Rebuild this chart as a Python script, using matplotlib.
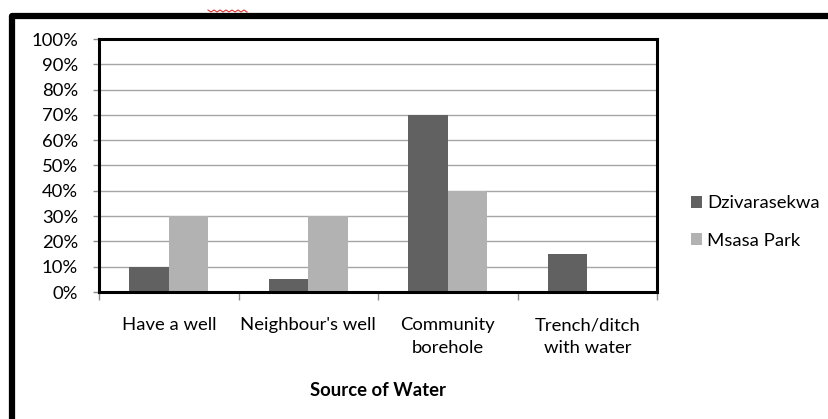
import matplotlib
matplotlib.use("Agg")
import matplotlib.pyplot as plt
import numpy as np
from matplotlib.patches import Rectangle, Patch
from matplotlib.lines import Line2D
from matplotlib.ticker import FuncFormatter, FixedLocator

plt.rcParams['font.family'] = ['Lato', 'DejaVu Sans']

categories = ["Have a well", "Neighbour's well", "Community\nborehole", "Trench/ditch\nwith water"]
series_names = ["Dzivarasekwa", "Msasa Park"]
dzivarasekwa = [10, 5, 70, 15]
msasa_park = [30, 30, 40, 0]
y_ticks = list(range(0, 101, 10))
x_title = "Source of Water"

colors = ["#616161", "#b2b2b2"]
FS = 13.3

W, H = 829, 419
fig = plt.figure(figsize=(W / 100, H / 100), dpi=100)

ax = fig.add_axes([99 / W, 1 - 292 / H, (657 - 99) / W, (292 - 39) / H])

x = np.arange(len(categories))
bw = 0.283
ax.bar(x - bw / 2, dzivarasekwa, width=bw, color=colors[0], zorder=3, label=series_names[0])
ax.bar(x + bw / 2, msasa_park, width=bw, color=colors[1], zorder=3, label=series_names[1])

ax.set_xlim(-0.5, len(categories) - 0.5)
ax.set_ylim(0, 100)
ax.yaxis.set_major_locator(FixedLocator(y_ticks))
ax.yaxis.set_major_formatter(FuncFormatter(lambda v, p: f"{int(v)}%"))
ax.grid(axis='y', color='#a6a6a6', linewidth=1.0, zorder=0)

ax.set_xticks(x)
ax.set_xticklabels(categories, fontsize=FS, linespacing=1.5)
ax.set_xticks(np.arange(-0.5, len(categories), 1.0), minor=True)
ax.tick_params(axis='x', which='major', length=0, pad=18)
ax.tick_params(axis='x', which='minor', length=6, width=1, color='#8c8c8c', direction='out')
ax.tick_params(axis='y', length=4, width=1, color='#8c8c8c', labelsize=FS, pad=11)

for s in ax.spines.values():
    s.set_color('black')
    s.set_linewidth(2.2)
    s.set_zorder(4)

ax.set_xlabel(x_title, fontsize=FS, fontweight='bold', labelpad=19)

handles = [Patch(facecolor=colors[0], edgecolor='none'), Patch(facecolor=colors[1], edgecolor='none')]
fig.legend(handles, series_names, loc='center left', bbox_to_anchor=(674 / W, 1 - 222 / H),
           frameon=False, fontsize=FS, handlelength=0.6, handleheight=0.6,
           handletextpad=0.3, labelspacing=1.15)

# outer chart frame (cut off at right and bottom)
frame = Rectangle((12 / W, -0.2), 1.5, 1.2 - 16 / H, transform=fig.transFigure,
                  fill=False, edgecolor='black', linewidth=4.5, joinstyle='round', zorder=10)
fig.patches.append(frame)

# red spell-check squiggle from the surrounding document
sx = np.linspace(208, 247, 14)
sy = 11 + np.where(np.arange(14) % 2 == 0, -1.0, 1.0)
fig.add_artist(Line2D(sx / W, 1 - sy / H, transform=fig.transFigure, color='#e03030', linewidth=0.8))

fig.savefig("out.png", dpi=100)
